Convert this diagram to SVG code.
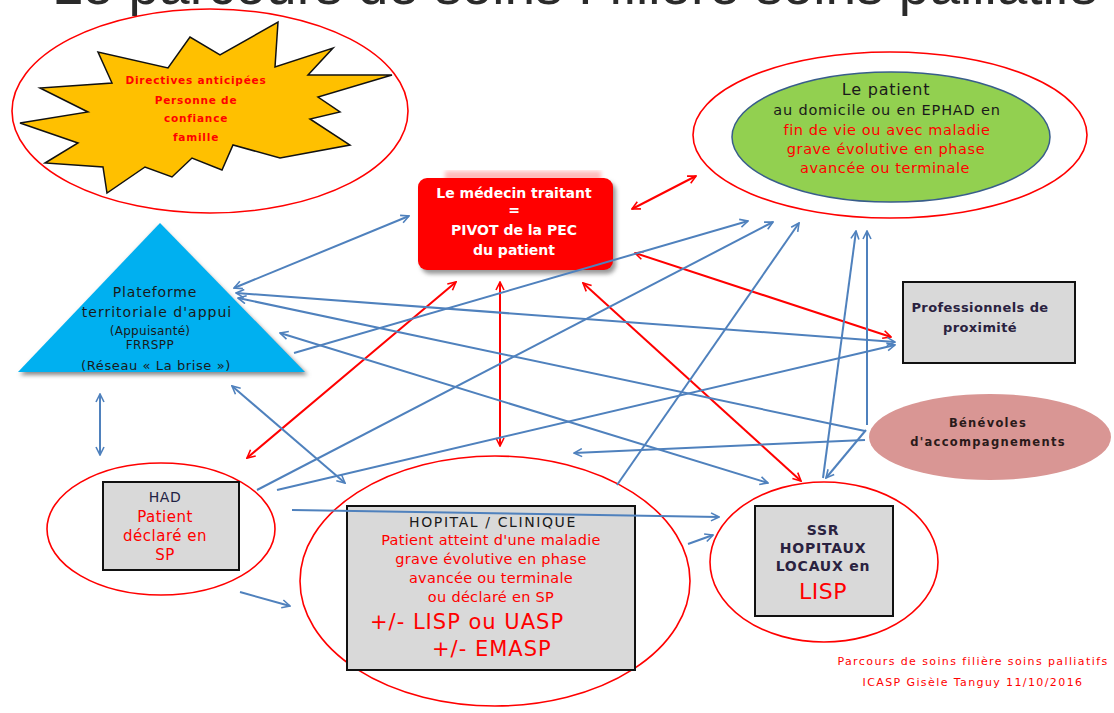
<svg xmlns="http://www.w3.org/2000/svg" width="1114" height="713" viewBox="0 0 1114 713">
  <style>
    .t { font-family: "DejaVu Sans", "Liberation Sans", sans-serif; }
    .c { text-anchor: middle; }
    .blk { fill: #1a1a1a; }
    .red { fill: #ff0000; }
    .ring { fill: none; stroke: #ff0000; stroke-width: 1.6; }
    .box { fill: #d9d9d9; stroke: #111; stroke-width: 2; }
    .bl { fill: none; stroke: #4f81bd; stroke-width: 2; }
    .rd { fill: none; stroke: #ff0000; stroke-width: 2; }
  </style>
  <defs>
    <marker id="hb" viewBox="0 0 10 10" refX="9" refY="5" markerWidth="5" markerHeight="5" orient="auto-start-reverse">
      <path d="M1,1 L9,5 L1,9" fill="none" stroke="#4f81bd" stroke-width="1.6"/>
    </marker>
    <marker id="hr" viewBox="0 0 10 10" refX="9" refY="5" markerWidth="5" markerHeight="5" orient="auto-start-reverse">
      <path d="M1,1 L9,5 L1,9" fill="none" stroke="#ff0000" stroke-width="1.6"/>
    </marker>
    <filter id="soft" x="-10%" y="-10%" width="120%" height="130%">
      <feGaussianBlur stdDeviation="2"/>
    </filter>
  </defs>

  <rect width="1114" height="713" fill="#ffffff"/>

  <!-- page title, mostly above the visible area -->
  <text x="52" y="4" font-family="Liberation Sans, sans-serif" font-size="55" fill="#2a2a2a">Le parcours de soins : filière soins palliatifs</text>

  <!-- anticipated directives -->
  <g id="directives">
    <polygon points="278,22 275,67 333,48 308,75 392,75 318,97 340,112 310,119 350,145 280,158 233,145 222,170 192,158 172,177 145,167 107,193 103,167 45,163 78,143 20,123 88,112 40,88 112,83 98,52 168,68 190,37 220,55" fill="#ffc000" stroke="#111" stroke-width="1.5" stroke-linejoin="miter"/>
    <ellipse class="ring" cx="210" cy="111" rx="198" ry="102"/>
    <g class="t c red" font-size="10.5" font-weight="bold" letter-spacing="0.8">
      <text x="196" y="84">Directives anticipées</text>
      <text x="196" y="104">Personne de</text>
      <text x="196" y="122">confiance</text>
      <text x="196" y="141">famille</text>
    </g>
  </g>

  <!-- patient -->
  <g id="patient">
    <ellipse class="ring" cx="890" cy="135" rx="197" ry="83"/>
    <ellipse cx="891" cy="137" rx="159" ry="65" fill="#92d050" stroke="#385d8a" stroke-width="1.5"/>
    <text class="t c blk" x="886" y="95" font-size="16" letter-spacing="0.8">Le patient</text>
    <text class="t c blk" x="887" y="115" font-size="14.5" letter-spacing="0.8">au domicile ou en EPHAD  en</text>
    <g class="t c red" font-size="14.5" letter-spacing="0.6">
      <text x="887" y="135">fin de vie  ou avec maladie</text>
      <text x="886" y="154">grave évolutive  en phase</text>
      <text x="885" y="173">avancée ou  terminale</text>
    </g>
  </g>

  <!-- attending physician -->
  <g id="medecin">
    <rect x="445" y="171" width="156" height="10" fill="#ffbcbc" filter="url(#soft)"/>
    <rect x="421" y="182" width="195" height="92" rx="9" fill="#999" filter="url(#soft)"/>
    <rect x="418" y="178" width="195" height="92" rx="9" fill="#ff0000"/>
    <g class="t c" fill="#ffffff" font-size="14" font-weight="bold">
      <text x="514" y="198">Le médecin traitant</text>
      <text x="514" y="215">=</text>
      <text x="514" y="235">PIVOT de la PEC</text>
      <text x="514" y="255">du patient</text>
    </g>
  </g>

  <!-- territorial support platform -->
  <g id="plateforme">
    <polygon points="160,226 20,375 308,375" fill="#888" filter="url(#soft)"/>
    <polygon points="160,223 18,372 305,372" fill="#00b0f0"/>
    <g class="t c blk">
      <text x="155" y="297" font-size="14" letter-spacing="0.8">Plateforme</text>
      <text x="157" y="317" font-size="14" letter-spacing="1">territoriale  d'appui</text>
      <text x="150" y="335" font-size="12" letter-spacing="0.3">(Appuisanté)</text>
      <text x="150" y="349" font-size="12" letter-spacing="0.5">FRRSPP</text>
      <text x="156" y="370" font-size="13" letter-spacing="0.6">(Réseau « La brise »)</text>
    </g>
  </g>

  <!-- local professionals -->
  <g id="professionnels">
    <rect class="box" x="903" y="282" width="172" height="81"/>
    <g class="t c" fill="#2a2240" font-size="13" font-weight="bold" letter-spacing="0.4">
      <text x="980" y="312">Professionnels de</text>
      <text x="980" y="332">proximité</text>
    </g>
  </g>

  <!-- volunteers -->
  <g id="benevoles">
    <ellipse cx="990" cy="437" rx="121" ry="43" fill="#d99694"/>
    <g class="t c" fill="#2a1a1a" font-size="11.5" font-weight="bold" letter-spacing="1.3">
      <text x="988" y="427">Bénévoles</text>
      <text x="988" y="446">d'accompagnements</text>
    </g>
  </g>

  <!-- home hospitalisation -->
  <g id="had">
    <ellipse class="ring" cx="161" cy="529" rx="114" ry="66"/>
    <rect class="box" x="103" y="482" width="136" height="88"/>
    <text class="t c" fill="#222244" x="165" y="502" font-size="14" letter-spacing="0.5">HAD</text>
    <g class="t c red" font-size="15" letter-spacing="0.5">
      <text x="165" y="522">Patient</text>
      <text x="165" y="541">déclaré en</text>
      <text x="165" y="560">SP</text>
    </g>
  </g>

  <!-- hospital / clinic -->
  <g id="hopital">
    <ellipse class="ring" cx="495" cy="581" rx="195" ry="125"/>
    <rect class="box" x="347" y="506" width="288" height="164"/>
    <text class="t c blk" x="493" y="527" font-size="14" letter-spacing="1.6">HOPITAL / CLINIQUE</text>
    <g class="t c red" font-size="14.5" letter-spacing="0.3">
      <text x="491" y="545">Patient atteint d'une maladie</text>
      <text x="491" y="564">grave évolutive en phase</text>
      <text x="491" y="583">avancée ou terminale</text>
      <text x="491" y="602">ou déclaré en SP</text>
    </g>
    <g class="t red" font-size="21" letter-spacing="1">
      <text x="370" y="629">+/- LISP  ou UASP</text>
      <text x="432" y="656">+/- EMASP</text>
    </g>
  </g>

  <!-- follow-up care / local hospitals -->
  <g id="ssr">
    <ellipse class="ring" cx="824" cy="562" rx="114" ry="80"/>
    <rect class="box" x="755" y="506" width="138" height="110"/>
    <g class="t c" fill="#2a2240" font-size="14" font-weight="bold" letter-spacing="0.8">
      <text x="823" y="535">SSR</text>
      <text x="823" y="553">HOPITAUX</text>
      <text x="823" y="571">LOCAUX en</text>
    </g>
    <text class="t c red" x="823" y="599" font-size="22" letter-spacing="0.5">LISP</text>
  </g>

  <!-- links between actors -->
  <g id="connectors">
    <!-- physician links -->
    <line class="rd" x1="632" y1="209" x2="696" y2="176" marker-start="url(#hr)" marker-end="url(#hr)"/>
    <line class="rd" x1="635" y1="253" x2="891" y2="337" marker-start="url(#hr)" marker-end="url(#hr)"/>
    <line class="rd" x1="456" y1="282" x2="247" y2="458" marker-start="url(#hr)" marker-end="url(#hr)"/>
    <line class="rd" x1="500" y1="282" x2="500" y2="446" marker-start="url(#hr)" marker-end="url(#hr)"/>
    <line class="rd" x1="583" y1="283" x2="801" y2="481" marker-start="url(#hr)" marker-end="url(#hr)"/>

    <!-- platform links -->
    <line class="bl" x1="234" y1="288" x2="409" y2="216" marker-start="url(#hb)" marker-end="url(#hb)"/>
    <line class="bl" x1="236" y1="293" x2="895" y2="342" marker-start="url(#hb)" marker-end="url(#hb)"/>
    <line class="bl" x1="865" y1="431" x2="238" y2="298" marker-end="url(#hb)"/>
    <line class="bl" x1="280" y1="333" x2="768" y2="483" marker-start="url(#hb)" marker-end="url(#hb)"/>
    <line class="bl" x1="294" y1="353" x2="748" y2="221" marker-end="url(#hb)"/>
    <line class="bl" x1="232" y1="386" x2="345" y2="483" marker-start="url(#hb)" marker-end="url(#hb)"/>
    <line class="bl" x1="100" y1="394" x2="100" y2="455" marker-start="url(#hb)" marker-end="url(#hb)"/>

    <!-- home hospitalisation links -->
    <line class="bl" x1="257" y1="490" x2="773" y2="222" marker-end="url(#hb)"/>
    <line class="bl" x1="277" y1="490" x2="895" y2="345" marker-end="url(#hb)"/>
    <line class="bl" x1="292" y1="510" x2="719" y2="517" marker-end="url(#hb)"/>
    <line class="bl" x1="240" y1="592" x2="290" y2="606" marker-end="url(#hb)"/>

    <!-- hospital links -->
    <line class="bl" x1="617" y1="485" x2="799" y2="223" marker-end="url(#hb)"/>
    <line class="bl" x1="688" y1="544" x2="713" y2="535" marker-end="url(#hb)"/>

    <!-- follow-up care and volunteers -->
    <line class="bl" x1="823" y1="478" x2="856" y2="231" marker-end="url(#hb)"/>
    <line class="bl" x1="867" y1="425" x2="867" y2="231" marker-end="url(#hb)"/>
    <line class="bl" x1="866" y1="430" x2="826" y2="478" marker-end="url(#hb)"/>
    <line class="bl" x1="865" y1="440" x2="574" y2="453" marker-end="url(#hb)"/>
  </g>

  <!-- footer credit -->
  <g class="t c red" font-size="11" letter-spacing="1.4">
    <text x="973" y="665">Parcours  de soins filière  soins palliatifs</text>
    <text x="973" y="686">ICASP Gisèle Tanguy 11/10/2016</text>
  </g>
</svg>
